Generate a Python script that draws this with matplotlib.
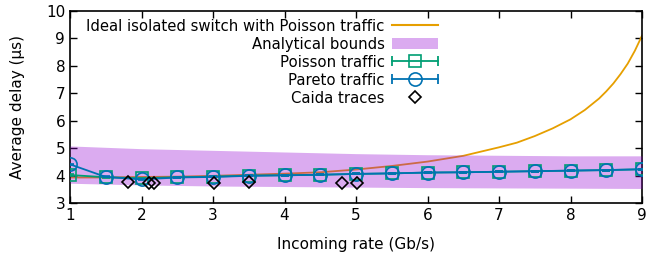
import numpy as np
import matplotlib
matplotlib.use("Agg")
import matplotlib.pyplot as plt
from matplotlib.lines import Line2D
from matplotlib.patches import Patch
from matplotlib.legend_handler import HandlerLine2D, HandlerTuple

# ideal switch curve
ideal_x = [1, 1.5, 2, 2.5, 3, 3.5, 4, 4.5, 5, 5.5, 6, 6.5, 7, 7.25, 7.5, 7.75, 8, 8.2, 8.4, 8.5, 8.6, 8.7, 8.8, 8.9, 9]
ideal_y = [3.93, 3.93, 3.95, 3.96, 3.99, 4.03, 4.07, 4.12, 4.22, 4.35, 4.51, 4.72, 5.03, 5.2, 5.44, 5.72, 6.05, 6.39, 6.81, 7.07, 7.36, 7.7, 8.08, 8.55, 9.1]

# analytical bounds
band_x = [1, 2, 3, 4, 5, 6, 7, 8, 9]
band_hi = [5.08, 4.98, 4.92, 4.86, 4.8, 4.76, 4.74, 4.72, 4.72]
band_lo = [3.72, 3.66, 3.62, 3.6, 3.58, 3.56, 3.55, 3.54, 3.53]

# simulations
rate = [1, 1.5, 2, 2.5, 3, 3.5, 4, 4.5, 5, 5.5, 6, 6.5, 7, 7.5, 8, 8.5, 9]
poisson = [4.02, 3.94, 3.9, 3.94, 3.96, 4.0, 4.01, 4.03, 4.06, 4.08, 4.11, 4.12, 4.14, 4.16, 4.18, 4.2, 4.23]
poisson_err = [0.02] * len(rate)
pareto = [4.41, 3.95, 3.86, 3.93, 3.95, 3.99, 4.01, 4.03, 4.06, 4.08, 4.11, 4.12, 4.14, 4.16, 4.18, 4.2, 4.23]
pareto_err = [0.02] * len(rate)

# caida traces
caida_x = [1.81, 2.1, 2.17, 3.01, 3.51, 4.8, 5.02]
caida_y = [3.75, 3.74, 3.74, 3.72, 3.75, 3.73, 3.72]

orange = "#e69f00"
green = "#009e73"
blue = "#0072b2"
violet = "#9400d3"

plt.rcParams["font.family"] = "DejaVu Sans"
plt.rcParams["font.size"] = 11

fig = plt.figure(figsize=(6.47, 2.64), dpi=100)
ax = fig.add_axes([70/647, 1-203/264, 572/647, 192/264])

ax.plot(ideal_x, ideal_y, color=orange, lw=1.3, zorder=2)
ax.fill_between(band_x, band_lo, band_hi, color=violet, alpha=0.33, lw=0, zorder=3)

ax.errorbar(rate, poisson, yerr=poisson_err, color=green, marker="s", ms=9, mfc="none",
            mew=1.2, lw=1.3, capsize=3, zorder=4)
ax.errorbar(rate, pareto, yerr=pareto_err, color=blue, marker="o", ms=9.5, mfc="none",
            mew=1.2, lw=1.3, capsize=3, zorder=5)
ax.plot(caida_x, caida_y, ls="none", marker="D", ms=6.5, mfc="none", mec="black", mew=1.2, zorder=6)

ax.set_xlim(1, 9)
ax.set_ylim(3, 10)
ax.set_xticks(range(1, 10))
ax.set_yticks(range(3, 11))
ax.tick_params(direction="in", top=True, right=True, length=5, width=1)
for s in ax.spines.values():
    s.set_linewidth(1.2)
ax.set_xlabel("Incoming rate (Gb/s)", labelpad=10)
ax.set_ylabel("Average delay (µs)", labelpad=15)

# legend, gnuplot style: text on the left, sample on the right
h_ideal = Line2D([], [], color=orange, lw=1.5)
h_band = Patch(facecolor=violet, alpha=0.33, lw=0)
cap_g = Line2D([], [], color=green, lw=1.3, marker="|", ms=7, mew=1.3)
mk_g = Line2D([], [], color=green, ls="none", marker="s", ms=9, mfc="none", mew=1.2)
cap_b = Line2D([], [], color=blue, lw=1.3, marker="|", ms=7, mew=1.3)
mk_b = Line2D([], [], color=blue, ls="none", marker="o", ms=9.5, mfc="none", mew=1.2)
h_caida = Line2D([], [], ls="none", marker="D", ms=6.5, mfc="none", mec="black", mew=1.2)

hm = {tuple: HandlerTuple(ndivide=1, pad=0), cap_g: HandlerLine2D(numpoints=2, marker_pad=0),
      cap_b: HandlerLine2D(numpoints=2, marker_pad=0)}
ax.legend([h_ideal, h_band, (cap_g, mk_g), (cap_b, mk_b), h_caida],
          ["Ideal isolated switch with Poisson traffic", "Analytical bounds",
           "Poisson traffic", "Pareto traffic", "Caida traces"],
          handler_map=hm, markerfirst=False, frameon=False, loc="upper left",
          bbox_to_anchor=(0.01, 1.015), handlelength=3.1, handletextpad=0.5,
          labelspacing=0.2, borderaxespad=0.3, fontsize=10.75)

fig.savefig("out.png", dpi=100)
